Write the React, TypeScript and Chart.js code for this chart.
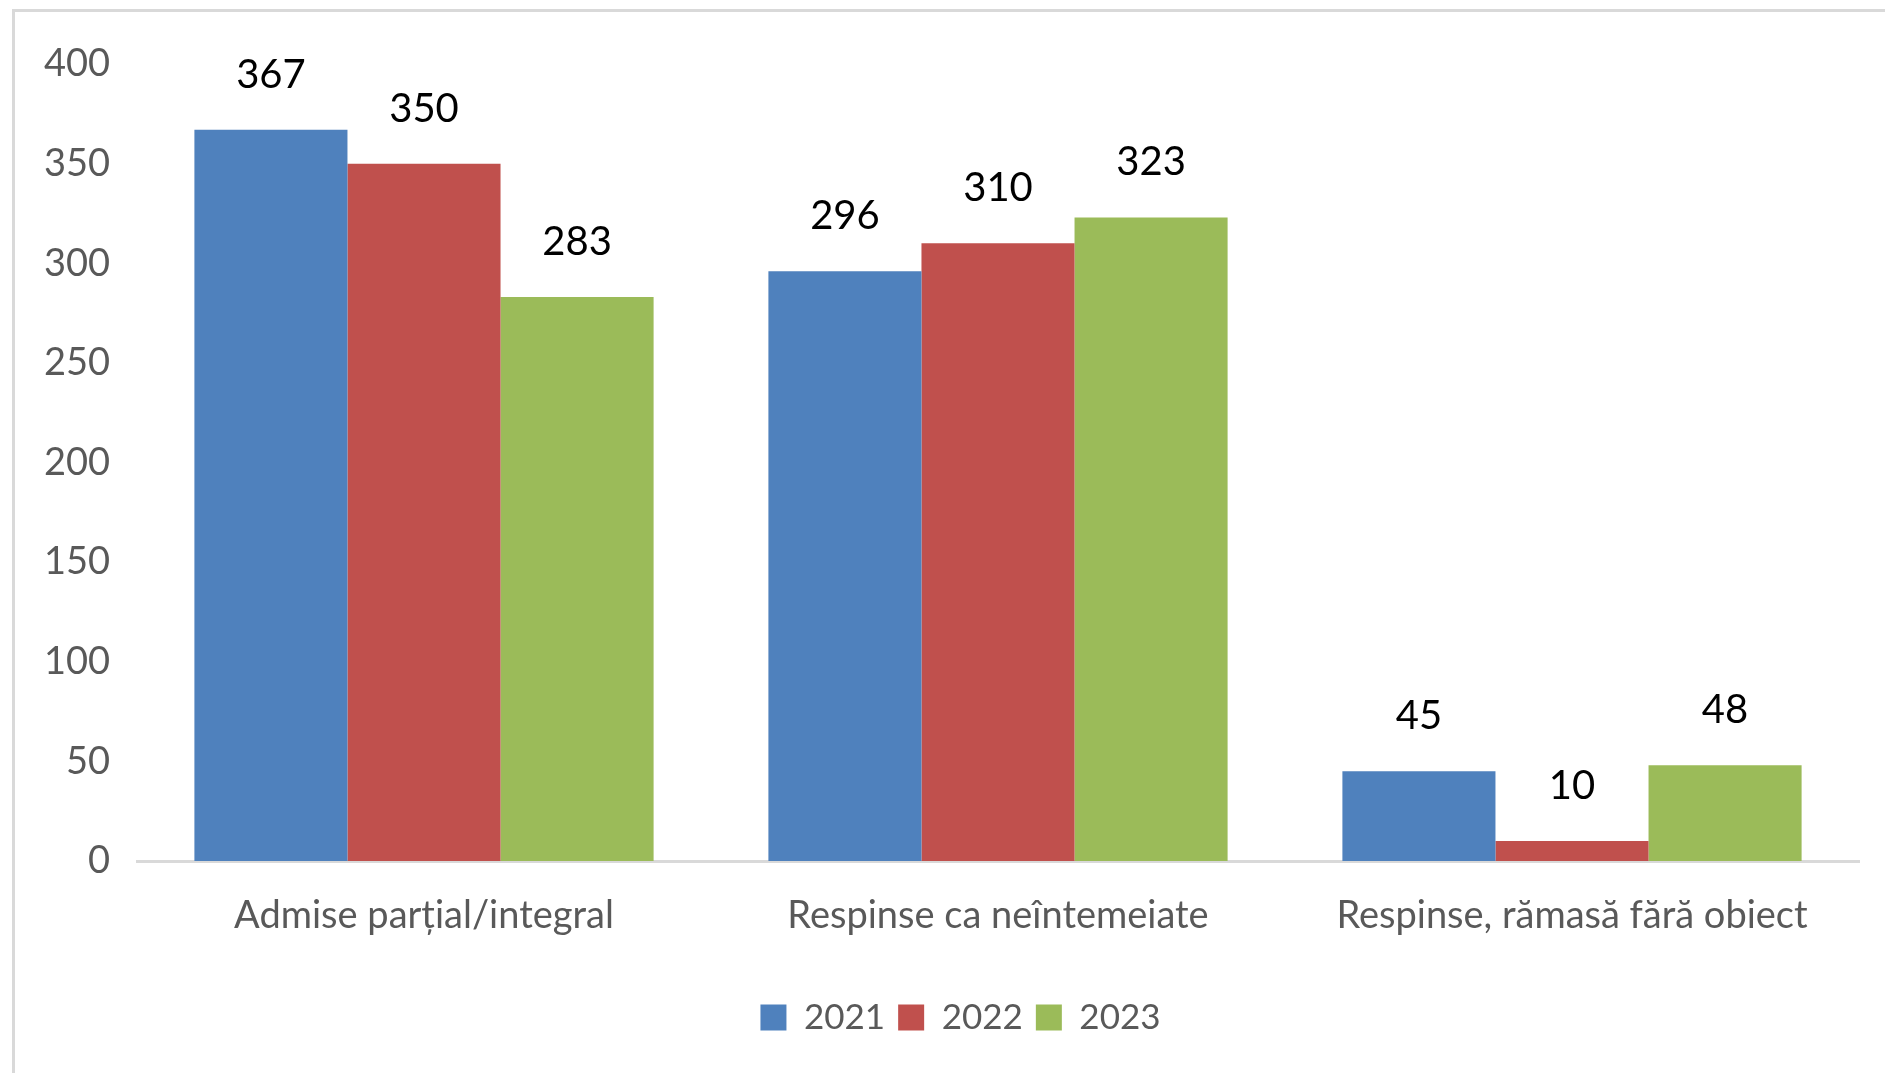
import React, { useEffect, useRef } from "react";
import { Chart, registerables } from "chart.js";

Chart.register(...registerables);

const categories = [
  "Admise parțial/integral",
  "Respinse ca neîntemeiate",
  "Respinse, rămasă fără obiect",
];
const series2021 = [367, 296, 45];
const series2022 = [350, 310, 10];
const series2023 = [283, 323, 48];
const seriesNames = ["2021", "2022", "2023"];
const yTicks = [0, 50, 100, 150, 200, 250, 300, 350, 400];

const FONT = "Lato, 'Noto Sans', sans-serif";

const valueLabels = {
  id: "valueLabels",
  afterDatasetsDraw(chart: any) {
    const ctx = chart.ctx;
    chart.data.datasets.forEach((ds: any, i: number) => {
      const meta = chart.getDatasetMeta(i);
      meta.data.forEach((bar: any, j: number) => {
        ctx.save();
        ctx.font = `40px ${FONT}`;
        ctx.fillStyle = "#000000";
        ctx.textAlign = "center";
        ctx.textBaseline = "middle";
        ctx.fillText(String(ds.data[j]), bar.x, bar.y - 55);
        ctx.restore();
      });
    });
  },
};

const shiftLegend = {
  id: "shiftLegend",
  afterLayout(chart: any) {
    const l = chart.legend;
    if (l) {
      l.left += 31;
      l.right += 31;
    }
  },
};

export default function App() {
  const ref = useRef<HTMLCanvasElement | null>(null);
  useEffect(() => {
    if (!ref.current) return;
    const chart = new Chart(ref.current, {
      type: "bar",
      data: {
        labels: categories,
        datasets: [
          { label: seriesNames[0], data: series2021, backgroundColor: "#4f81bd", borderWidth: 0 },
          { label: seriesNames[1], data: series2022, backgroundColor: "#c0504d", borderWidth: 0 },
          { label: seriesNames[2], data: series2023, backgroundColor: "#9bbb59", borderWidth: 0 },
        ],
      },
      options: {
        animation: false,
        responsive: false,
        maintainAspectRatio: false,
        layout: { padding: { left: 0, right: 26, top: 64, bottom: 28 } },
        datasets: { bar: { categoryPercentage: 0.8, barPercentage: 1.0 } },
        plugins: {
          legend: {
            position: "bottom",
            labels: {
              font: { family: FONT, size: 35 },
              color: "#595959",
              boxWidth: 26,
              boxHeight: 26,
              padding: 13,
            },
          },
          tooltip: { enabled: false },
          title: { display: false },
        },
        scales: {
          x: {
            grid: { display: false, drawTicks: false },
            border: { display: true, color: "#d9d9d9", width: 3 },
            ticks: {
              font: { family: FONT, size: 38 },
              color: "#595959",
              padding: 32,
              maxRotation: 0,
              autoSkip: false,
            },
            afterFit: (scale: any) => {
              scale.height = 126;
            },
          },
          y: {
            min: 0,
            max: 400,
            afterBuildTicks: (scale: any) => {
              scale.ticks = yTicks.map((v) => ({ value: v }));
            },
            grid: { display: false, drawTicks: false },
            border: { display: false },
            ticks: {
              font: { family: FONT, size: 38 },
              color: "#595959",
              padding: 27,
            },
            afterFit: (scale: any) => {
              scale.width = 137;
            },
          },
        },
      },
      plugins: [valueLabels, shiftLegend],
    });
    return () => chart.destroy();
  }, []);

  return (
    <div style={{ position: "fixed", left: 0, top: 0, width: 1885, height: 1073, background: "#ffffff" }}>
      <div
        style={{
          position: "absolute",
          left: 12,
          top: 9,
          width: 1885 - 12,
          height: 1073 - 9,
          borderLeft: "3px solid #d9d9d9",
          borderTop: "3px solid #d9d9d9",
          boxSizing: "border-box",
        }}
      />
      <canvas
        ref={ref}
        width={1885}
        height={1073}
        style={{ position: "absolute", left: 0, top: 0, width: 1885, height: 1073 }}
      />
    </div>
  );
}
